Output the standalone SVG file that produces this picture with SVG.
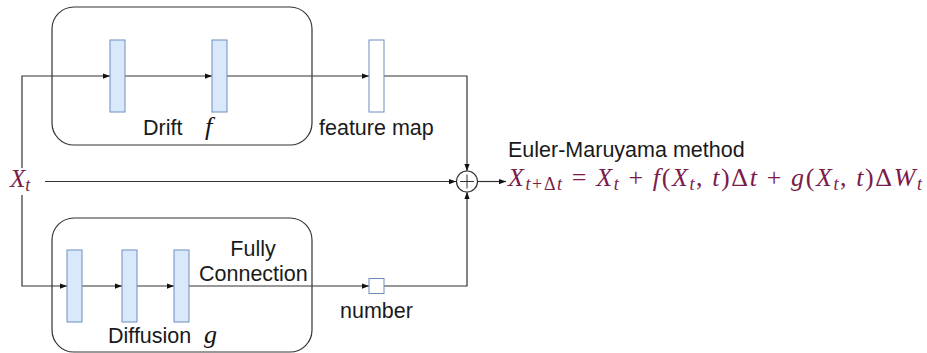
<svg xmlns="http://www.w3.org/2000/svg" width="927" height="353" viewBox="0 0 927 353">
<style>
.box{fill:none;stroke:#333;stroke-width:1.2}
.layer{fill:#dae8fc;stroke:#6c8ebf;stroke-width:1}
.fm{fill:#fff;stroke:#6c8ebf;stroke-width:1}
.ln{fill:none;stroke:#333;stroke-width:1.2}
.lbl{font-family:"Liberation Sans",Arial,sans-serif;font-size:21.5px;fill:#1a1a1a}
.m{font-family:"Liberation Serif","Times New Roman",serif;font-style:italic;fill:#7a1c4a}
.mi{font-family:"Liberation Serif","Times New Roman",serif;font-style:italic;fill:#111}
.up{font-style:normal}
</style>
<defs>
<marker id="ar" viewBox="0 0 8 8" refX="8" refY="4" markerWidth="7" markerHeight="7" markerUnits="userSpaceOnUse" orient="auto">
<path d="M0,1 L8,4 L0,7 Z" fill="#111"/>
</marker>
</defs>
<rect width="927" height="353" fill="#fff"/>
<g id="connectors">
<path class="ln" d="M22,168 V76 H110" marker-end="url(#ar)"/>
<path class="ln" d="M125,76 H212" marker-end="url(#ar)"/>
<path class="ln" d="M227,76 H369" marker-end="url(#ar)"/>
<path class="ln" d="M384,76 H467 V171" marker-end="url(#ar)"/>
<path class="ln" d="M45,181.5 H456" marker-end="url(#ar)"/>
<path class="ln" d="M22,195 V286 H67" marker-end="url(#ar)"/>
<path class="ln" d="M82,286 H122" marker-end="url(#ar)"/>
<path class="ln" d="M137,286 H174" marker-end="url(#ar)"/>
<path class="ln" d="M189,286 H369" marker-end="url(#ar)"/>
<path class="ln" d="M384,286 H467 V192" marker-end="url(#ar)"/>
<path class="ln" d="M477.5,181.5 H506" marker-end="url(#ar)"/>
</g>
<g id="drift">
<rect class="box" x="52" y="7" width="260" height="138" rx="22"/>
<text class="lbl" x="143" y="135">Drift</text>
<text class="mi" x="205" y="135" font-size="26">f</text>
</g>
<g id="drift-layer1"><rect class="layer" x="110" y="40" width="15" height="72"/></g>
<g id="drift-layer2"><rect class="layer" x="212" y="40" width="15" height="72"/></g>
<g id="feature-map">
<rect class="fm" x="369" y="40" width="15" height="72"/>
<text class="lbl" x="319" y="135">feature map</text>
</g>
<g id="diffusion">
<rect class="box" x="52" y="218" width="260" height="134" rx="22"/>
<text class="lbl" x="108" y="343">Diffusion</text>
<text class="mi" x="204" y="343" font-size="26">g</text>
<text class="lbl" x="253" y="256" text-anchor="middle">Fully</text>
<text class="lbl" x="199" y="281">Connection</text>
</g>
<g id="diff-layer1"><rect class="layer" x="67" y="250" width="15" height="72"/></g>
<g id="diff-layer2"><rect class="layer" x="122" y="250" width="15" height="72"/></g>
<g id="diff-layer3"><rect class="layer" x="174" y="250" width="15" height="72"/></g>
<g id="number">
<rect class="fm" x="369" y="278.5" width="15" height="15"/>
<text class="lbl" x="340" y="318">number</text>
</g>
<g id="xt">
<text class="m" x="10" y="187" font-size="25">X<tspan font-size="18" dy="4">t</tspan></text>
</g>
<g id="sum">
<circle cx="467" cy="181.5" r="10.5" fill="#fff" stroke="#333" stroke-width="1.2"/>
<path d="M460,181.5 H474 M467,174.5 V188.5" stroke="#333" stroke-width="1"/>
</g>
<g id="euler">
<text class="lbl" x="508" y="157">Euler-Maruyama method</text>
<text class="m" x="508" y="186" font-size="26" textLength="414">X<tspan font-size="18" dy="4">t<tspan class="up">+Δ</tspan>t</tspan><tspan class="up" dy="-4"> = </tspan>X<tspan font-size="18" dy="4">t</tspan><tspan class="up" dy="-4"> + </tspan>f<tspan class="up">(</tspan>X<tspan font-size="18" dy="4">t</tspan><tspan class="up" dy="-4">, </tspan>t<tspan class="up">)Δ</tspan>t<tspan class="up"> + </tspan>g<tspan class="up">(</tspan>X<tspan font-size="18" dy="4">t</tspan><tspan class="up" dy="-4">, </tspan>t<tspan class="up">)Δ</tspan>W<tspan font-size="18" dy="4">t</tspan></text>
</g>
</svg>
